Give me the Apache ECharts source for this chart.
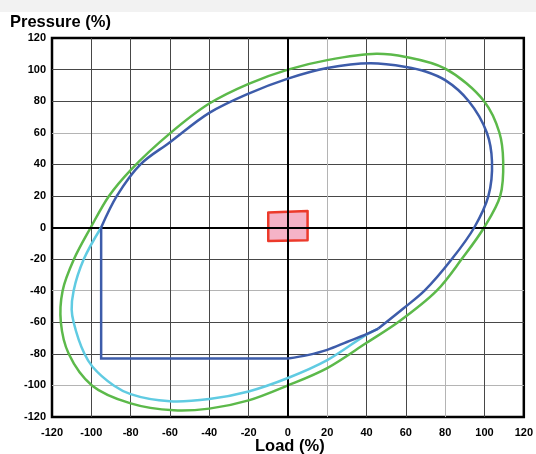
<!DOCTYPE html>
<html>
<head>
<meta charset="utf-8">
<script src="https://cdn.jsdelivr.net/npm/echarts@6/dist/echarts.min.js"></script>
<style>
html,body{margin:0;padding:0;background:#fff;}
#chart{width:536px;height:454px;}
</style>
</head>
<body>
<div id="chart"></div>
<script>
// Tick labels / axis range
const xTicks = [-120,-100,-80,-60,-40,-20,0,20,40,60,80,100,120];
const yTicks = [-120,-100,-80,-60,-40,-20,0,20,40,60,80,100,120];
const xTitle = 'Load (%)';
const yTitle = 'Pressure (%)';

// Outer green envelope (closed loop, [load, pressure])
const greenLoop = [
  [0,100],[20,106],[45,110],[60,108],[80,100.6],[99.8,80],[107.6,60],[109.5,42],
  [108,20],[99.8,0],[88.4,-20],[75.7,-40],[56,-60],[40,-73],[20,-89],
  [0,-100],[-20,-109.5],[-40,-114.7],[-58,-115.8],[-80,-111.4],[-99.7,-100],
  [-111.5,-80],[-115.5,-60],[-114.6,-40],[-108.8,-20],[-100.3,0],[-91,20],
  [-80,36.4],[-60,59.6],[-40,78.5],[-20,91]
];

// Blue curve: upper/right arc from (-95,0) to junction
const blueArc = [
  [-95,0],[-87,20],[-75,40],[-60,54],[-40,72.6],[-20,84.8],[0,94.3],
  [20,101],[42,104],[60,101.7],[70,98.8],[80,93.3],[92,80],[101.2,60],[103.8,42],
  [102,20],[94.8,0],[83.4,-20],[69.5,-40],[59,-51],[46,-64]
];
// Blue curve: short lower arc from junction to (0,-83)
const blueLower = [[46,-64],[40,-67.5],[30,-72.5],[20,-77.5],[10,-80.8],[0,-83]];
// Blue straight frame
const blueFrame = [[0,-83],[-95,-83],[-95,0]];

// Cyan curve: lower-left arc from (-95,0) to junction
const cyanArc = [
  [-95,0],[-103.8,-20],[-109,-40],[-110,-52],[-109,-60],[-103.5,-80],[-99.5,-88],
  [-88.6,-100],[-80,-105.5],[-60,-110],[-40,-108.6],[-20,-103.8],[0,-95.3],
  [20,-84],[40,-67.8],[46,-64]
];

// Red operating box (polygon corners)
const redBox = [[-10,9.5],[10,10.5],[10,-8],[-10,-8.5]];

const dark = '#474747', light = '#b4b4b4';
const chart = echarts.init(document.getElementById('chart'));
const labelStyle = {color:'#000', fontFamily:'Liberation Sans, Arial, sans-serif', fontWeight:'bold', fontSize:11};

// Centripetal Catmull-Rom path through the points mapped by the axes
function curvePath(api, pts, closed){
  const p = pts.map(d => api.coord(d));
  const n = p.length;
  const get = i => closed ? p[(i + n) % n] : p[Math.max(0, Math.min(n - 1, i))];
  const la = (a, b) => Math.pow(Math.hypot(b[0] - a[0], b[1] - a[1]), 0.5);
  let d = 'M' + p[0][0] + ' ' + p[0][1];
  const segs = closed ? n : n - 1;
  for (let i = 0; i < segs; i++){
    const p0 = get(i - 1), p1 = get(i), p2 = get(i + 1), p3 = get(i + 2);
    const l01 = la(p0, p1), l12 = la(p1, p2), l23 = la(p2, p3);
    let c1 = [p1[0], p1[1]], c2 = [p2[0], p2[1]];
    if (l01 > 1e-6){
      const a = 2 * l01 * l01 + 3 * l01 * l12 + l12 * l12, m = 3 * l01 * (l01 + l12);
      c1 = [(p1[0] * a - p0[0] * l12 * l12 + p2[0] * l01 * l01) / m,
            (p1[1] * a - p0[1] * l12 * l12 + p2[1] * l01 * l01) / m];
    }
    if (l23 > 1e-6){
      const b = 2 * l23 * l23 + 3 * l23 * l12 + l12 * l12, m = 3 * l23 * (l23 + l12);
      c2 = [(p2[0] * b + p1[0] * l23 * l23 - p3[0] * l12 * l12) / m,
            (p2[1] * b + p1[1] * l23 * l23 - p3[1] * l12 * l12) / m];
    }
    d += ' C' + c1[0] + ' ' + c1[1] + ' ' + c2[0] + ' ' + c2[1] + ' ' + p2[0] + ' ' + p2[1];
  }
  if (closed) d += ' Z';
  return d;
}
function curveSeries(pts, color, closed, z){
  return {type:'custom', silent:true, data:[0], z:z, clip:true,
    renderItem:function(params, api){
      return {type:'path', shape:{pathData:curvePath(api, pts, closed)},
        style:{fill:'none', stroke:color, lineWidth:2.5, lineJoin:'round'}};
    }};
}

chart.setOption({
  animation:false,
  backgroundColor:'#fff',
  grid:{left:52, right:10, top:38, bottom:37, show:true, borderColor:'#000', borderWidth:2.5, backgroundColor:'transparent'},
  xAxis:{
    type:'value', min:xTicks[0], max:xTicks[xTicks.length-1], interval:20,
    axisLine:{show:false}, axisTick:{show:false},
    axisLabel:Object.assign({margin:10, showMinLabel:true, showMaxLabel:true}, labelStyle),
    splitLine:{show:true, showMinLine:false, showMaxLine:false,
      lineStyle:{width:1, color:[dark,dark,dark,dark,dark,dark,light,dark,dark,light,dark]}}
  },
  yAxis:{
    type:'value', min:yTicks[0], max:yTicks[yTicks.length-1], interval:20,
    axisLine:{show:false}, axisTick:{show:false},
    axisLabel:Object.assign({margin:6, showMinLabel:true, showMaxLabel:true}, labelStyle),
    splitLine:{show:true, showMinLine:false, showMaxLine:false,
      lineStyle:{width:1, color:[light,dark,dark,light,dark,dark,dark,dark,light,dark,dark]}}
  },
  graphic:[
    {type:'rect', left:0, top:0, shape:{width:536, height:12}, style:{fill:'#f2f2f2'}, z:-10},
    {type:'text', left:10, top:14, style:{text:yTitle, fill:'#000', font:'bold 16.5px "Liberation Sans", Arial, sans-serif'}},
    {type:'text', left:255, top:438, style:{text:xTitle, fill:'#000', font:'bold 16.5px "Liberation Sans", Arial, sans-serif'}}
  ],
  series:[
    {type:'line', data:[], silent:true,
      markLine:{silent:true, symbol:['none','none'], label:{show:false},
        lineStyle:{color:'#000', width:2, type:'solid'},
        data:[{xAxis:0},{yAxis:0}]}},
    {type:'custom', silent:true, data:[0],
      renderItem:function(params, api){
        const pts = redBox.map(p => api.coord(p));
        return {type:'polygon', shape:{points:pts},
          style:{fill:'#f5b3c7', stroke:'#ec3a2b', lineWidth:2.5, lineJoin:'round'}};
      }, z:3},
    curveSeries(greenLoop, '#5cb94a', true, 4),
    curveSeries(cyanArc, '#60cbe2', false, 5),
    curveSeries(blueLower, '#3d5caa', false, 6),
    {type:'line', data:blueFrame, smooth:false, symbol:'none', lineStyle:{color:'#3d5caa', width:2.5, join:'miter'}, z:6},
    curveSeries(blueArc, '#3d5caa', false, 6)
  ]
});
</script>
</body>
</html>
